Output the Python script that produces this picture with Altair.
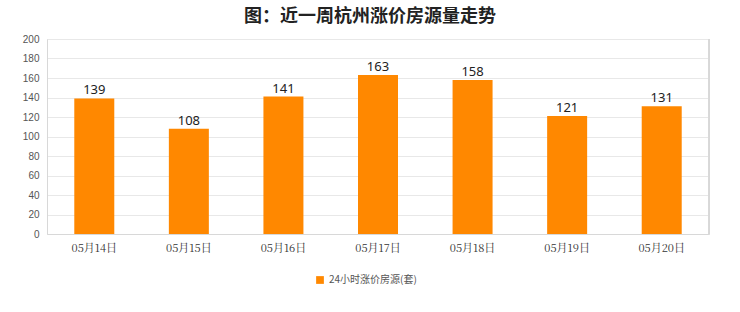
import altair as alt
import pandas as pd

dates = ["05月14日", "05月15日", "05月16日", "05月17日", "05月18日", "05月19日", "05月20日"]
values = [139, 108, 141, 163, 158, 121, 131]
series_name = "24小时涨价房源(套)"
y_ticks = [0, 20, 40, 60, 80, 100, 120, 140, 160, 180, 200]

df = pd.DataFrame({"date": dates, "value": values, "series": [series_name] * len(dates)})

base = alt.Chart(df)

y_axis = alt.Axis(values=y_ticks, labelFontSize=10, labelColor="#555555",
                  labelOverlap=False, labelFlush=False,
                  gridColor="#e8e8e8", domainColor="#d8d8d8", ticks=False, labelPadding=8)
x_axis = alt.Axis(labelAngle=0, labelFont="Noto Serif CJK SC, Liberation Serif, serif",
                  labelFontSize=11, labelColor="#333333", ticks=False,
                  domainColor="#d8d8d8", labelPadding=8)
y_scale = alt.Scale(domain=[0, 200], nice=False)
x_scale = alt.Scale(paddingInner=0, paddingOuter=0)

bars = base.mark_bar(size=40).encode(
    x=alt.X("date:N", sort=dates, title=None, scale=x_scale, axis=x_axis),
    y=alt.Y("value:Q", title=None, scale=y_scale, axis=y_axis),
    color=alt.Color("series:N", scale=alt.Scale(range=["#FF8800"]),
                    legend=alt.Legend(title=None, orient="none", legendX=268, legendY=236,
                                      symbolType="square", symbolSize=60, labelFontSize=10,
                                      labelColor="#555555", symbolStrokeWidth=0,
                                      labelFont="Noto Sans CJK SC")),
)

labels = base.mark_text(dy=-8, fontSize=13, color="#222222", font="Noto Sans").encode(
    x=alt.X("date:N", sort=dates, title=None, scale=x_scale, axis=x_axis),
    y=alt.Y("value:Q", title=None, scale=y_scale, axis=y_axis),
    text="value:Q",
)

right_border = base.mark_rule(color="#d8d8d8").encode(x=alt.value(662), y=alt.value(0), y2=alt.value(195))

chart = (bars + labels + right_border).properties(
    width=662, height=195,
    title=alt.TitleParams("图：近一周杭州涨价房源量走势", fontSize=18, fontWeight="bold",
                          font="Noto Sans CJK SC", color="#222222", offset=8, dx=-8),
    autosize=alt.AutoSizeParams(type="none"),
    padding={"left": 47, "top": 39, "right": 31, "bottom": 78},
).configure_view(stroke=None).configure(background="#ffffff")

chart.save("out.html", embed_options={"renderer": "svg", "actions": False})
